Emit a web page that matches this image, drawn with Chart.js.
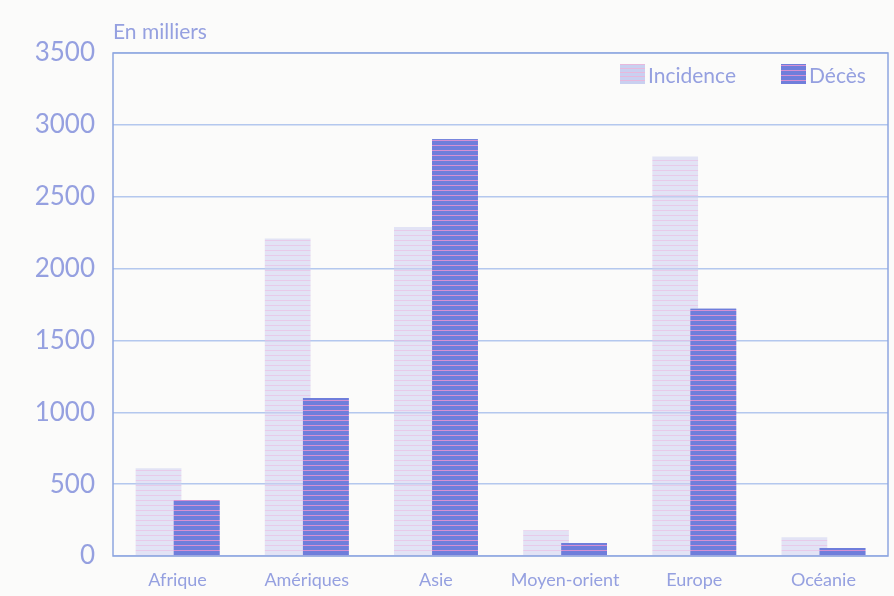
<!DOCTYPE html>
<html>
<head>
<meta charset="utf-8">
<script src="https://cdn.jsdelivr.net/npm/chart.js@4/dist/chart.umd.min.js"></script>
<style>
  html, body { margin: 0; padding: 0; background: #fbfbfa; }
  #wrap { width: 894px; height: 596px; position: relative; }
</style>
</head>
<body>
<div id="wrap"><canvas id="chart" width="894" height="596"></canvas></div>
<script>
const regions = ['Afrique', 'Amériques', 'Asie', 'Moyen-orient', 'Europe', 'Océanie'];
const incidence = [610, 2210, 2290, 180, 2780, 130];
const deces = [390, 1100, 2900, 90, 1720, 55];
const yTicks = [0, 500, 1000, 1500, 2000, 2500, 3000, 3500];

// striped fill like the printed scan
function stripes(base, line, gap) {
    const c = document.createElement('canvas');
    c.width = 8; c.height = gap;
    const g = c.getContext('2d');
    g.fillStyle = base;
    g.fillRect(0, 0, 8, gap);
    g.fillStyle = line;
    g.fillRect(0, 0, 8, 1);
    return g.createPattern(c, 'repeat');
}

const incFill = stripes('rgba(205,208,240,0.55)', 'rgba(235,185,225,0.6)', 5);
const decFill = stripes('#6f7edb', '#d690d2', 5);

const textColor = '#95a0e0';

const extras = {
    id: 'extras',
    afterDatasetsDraw(chart) {
        // Chart.js paints the first dataset last; put the deaths bars back on top
        const ctx = chart.ctx;
        ctx.save();
        chart.getDatasetMeta(1).data.forEach(el => el.draw(ctx));
        ctx.restore();
    },
    afterDraw(chart) {
        const { ctx, chartArea: a } = chart;
        ctx.save();
        ctx.strokeStyle = '#8fa6e0';
        ctx.lineWidth = 1.5;
        ctx.strokeRect(a.left, a.top, a.right - a.left, a.bottom - a.top);

        ctx.fillStyle = textColor;
        ctx.font = '21px Lato';
        ctx.textBaseline = 'middle';
        ctx.fillText('En milliers', a.left, 32);

        // legend inside the plot, top right
        const items = [
            { label: chart.data.datasets[0].label, fill: stripes('#c9d0f0', '#e8b8dc', 4), x: 620 },
            { label: chart.data.datasets[1].label, fill: decFill, x: 781 }
        ];
        ctx.font = '21px Lato';
        items.forEach(it => {
            ctx.fillStyle = it.fill;
            ctx.fillRect(it.x, 64, 25, 20);
            ctx.fillStyle = textColor;
            ctx.fillText(it.label, it.x + 28, 76);
        });
        ctx.restore();
    }
};

new Chart(document.getElementById('chart').getContext('2d'), {
    type: 'bar',
    data: {
        labels: regions,
        datasets: [
            { label: 'Incidence', data: incidence, backgroundColor: incFill },
            { label: 'Décès', data: deces, backgroundColor: decFill }
        ]
    },
    options: {
        responsive: false,
        animation: false,
        layout: { padding: { top: 53, right: 6, left: 0, bottom: 0 } },
        datasets: { bar: { categoryPercentage: 0.59, barPercentage: 1.2 } },
        scales: {
            x: {
                grid: { display: false, drawTicks: false },
                border: { display: false },
                ticks: { color: textColor, font: { family: 'Lato', size: 18 }, padding: 13 },
                afterFit(s) { s.height = 40; }
            },
            y: {
                min: 0, max: 3500,
                afterBuildTicks(s) { s.ticks = yTicks.map(v => ({ value: v })); },
                grid: { color: '#b4c8ee', lineWidth: 1.5, drawTicks: false },
                border: { display: false },
                ticks: {
                    color: textColor, font: { family: 'Lato', size: 26 }, padding: 18,
                    callback: v => String(v)
                },
                afterFit(s) { s.width = 113; }
            }
        },
        plugins: {
            legend: { display: false },
            tooltip: { enabled: false }
        }
    },
    plugins: [extras]
});
</script>
</body>
</html>
